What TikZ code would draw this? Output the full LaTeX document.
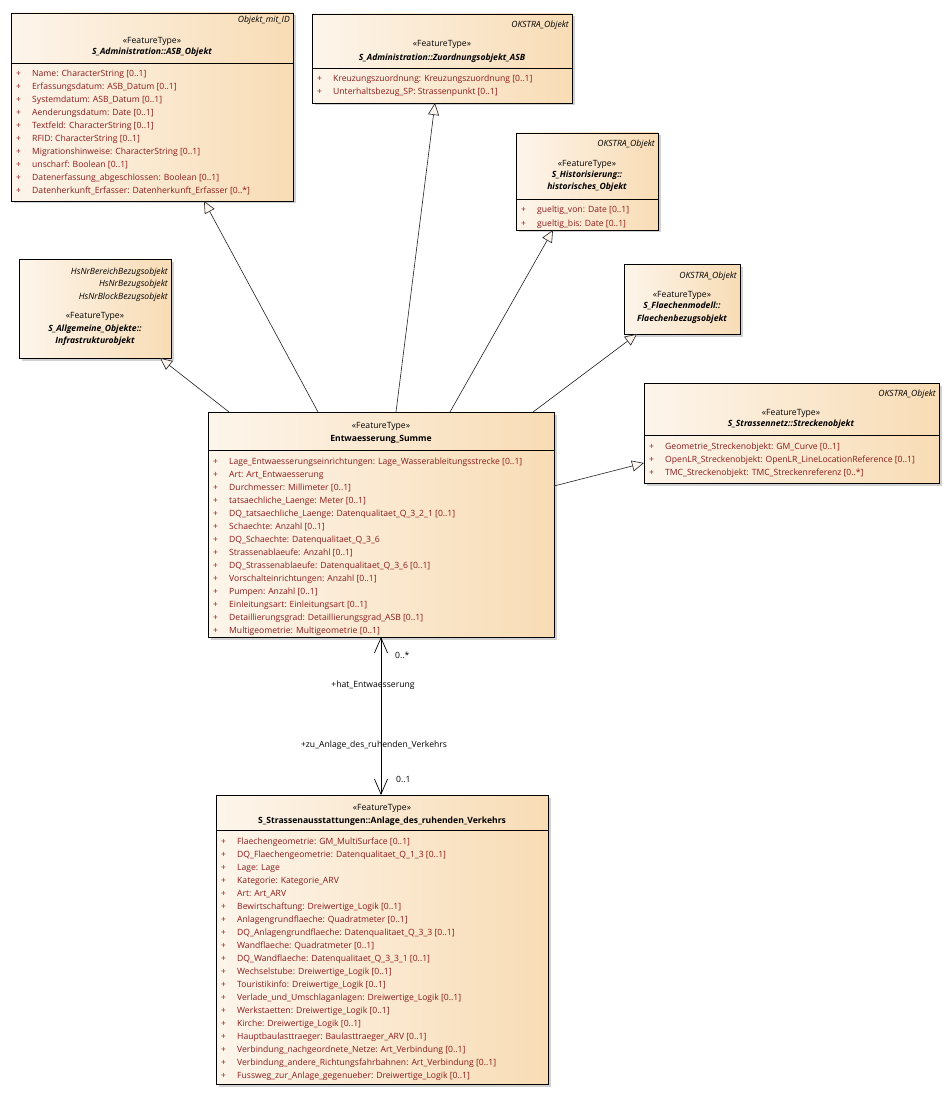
\documentclass[tikz,border=0pt]{standalone}
\usepackage{fontspec}
\setmainfont{Open Sans}
\usetikzlibrary{arrows.meta,shadows,calc}
\definecolor{boxL}{HTML}{FDF5EB}
\definecolor{boxR}{HTML}{F8DCB5}
\definecolor{attrc}{HTML}{8B1A1A}
\definecolor{linec}{HTML}{222222}
\newcommand\dfont{\fontsize{8.6}{10}\selectfont}
\tikzset{
  umlbox/.style={draw=black, line width=0.9pt, left color=boxL, right color=boxR,
    drop shadow={shadow xshift=2.5pt, shadow yshift=-2.5pt, fill=black!40, opacity=0.45},
    inner sep=0pt, outer sep=0pt, anchor=north west},
  txt/.style={font=\dfont, inner sep=0pt, text=black},
  attrtxt/.style={txt, text=attrc},
  stereo/.style={txt, font=\dfont\itshape},
  titleit/.style={txt, font=\dfont\bfseries\itshape},
  titlebf/.style={txt, font=\dfont\bfseries},
  divline/.style={draw=black, line width=0.8pt},
  gen/.style={draw=linec, line width=0.6pt, -{Triangle[length=12pt, width=11pt, fill=boxL]}},
  assoc/.style={draw=black, line width=0.7pt, {Straight Barb[length=15pt, width=13pt]}-{Straight Barb[length=15pt, width=13pt]}},
  lbl/.style={txt}
}
\newcommand\attrlist[4]{%
  \foreach \t [count=\i from 0] in {#4} {
    \node[attrtxt, anchor=base west] (#1p\i) at (#2+5, #3+13*\i) {+};
    \node[attrtxt, anchor=base west] (#1t\i) at (#2+21, #3+13*\i) {\t};
  }}
\begin{document}
\begin{tikzpicture}[x=1pt, y=-1pt]
\path[use as bounding box, fill=white] (0,0) rectangle (949,1115);

% ---------- ASB_Objekt ----------
\node[umlbox, minimum width=282pt, minimum height=188pt] (asb) at (11,13) {};
\node[stereo, anchor=base east] (asbst) at (290,23) {Objekt\_mit\_ID};
\node[txt, anchor=base] (asbft) at (152,44) {«FeatureType»};
\node[titleit, anchor=base] (asbtt) at (152,55) {S\_Administration::ASB\_Objekt};
\draw[divline] (asb.west |- 0,63) -- (asb.east |- 0,63);
\attrlist{asb}{11}{77}{Name: CharacterString [0..1],Erfassungsdatum: ASB\_Datum [0..1],Systemdatum: ASB\_Datum [0..1],Aenderungsdatum: Date [0..1],Textfeld: CharacterString [0..1],RFID: CharacterString [0..1],Migrationshinweise: CharacterString [0..1],unscharf: Boolean [0..1],Datenerfassung\_abgeschlossen: Boolean [0..1],Datenherkunft\_Erfasser: Datenherkunft\_Erfasser [0..*]}

% ---------- Zuordnungsobjekt_ASB ----------
\node[umlbox, minimum width=260pt, minimum height=89pt] (zuo) at (312,14) {};
\node[stereo, anchor=base east] (zuost) at (569,28) {OKSTRA\_Objekt};
\node[txt, anchor=base] (zuoft) at (442,47) {«FeatureType»};
\node[titleit, anchor=base] (zuott) at (442,61) {S\_Administration::Zuordnungsobjekt\_ASB};
\draw[divline] (zuo.west |- 0,68) -- (zuo.east |- 0,68);
\attrlist{zuo}{312}{82}{Kreuzungszuordnung: Kreuzungszuordnung [0..1],Unterhaltsbezug\_SP: Strassenpunkt [0..1]}

% ---------- historisches_Objekt ----------
\node[umlbox, minimum width=142pt, minimum height=97pt] (his) at (516,133) {};
\node[stereo, anchor=base east] (hisst) at (655,147) {OKSTRA\_Objekt};
\node[txt, anchor=base] (hisft) at (587,167) {«FeatureType»};
\node[titleit, anchor=base] (histt) at (587,178) {S\_Historisierung::};
\node[titleit, anchor=base] (histt2) at (587,190) {historisches\_Objekt};
\draw[divline] (his.west |- 0,199) -- (his.east |- 0,199);
\attrlist{his}{516}{213}{gueltig\_von: Date [0..1],gueltig\_bis: Date [0..1]}

% ---------- Infrastrukturobjekt ----------
\node[umlbox, minimum width=152pt, minimum height=99pt] (inf) at (19,259) {};
\node[stereo, anchor=base east] (infst1) at (168,274) {HsNrBereichBezugsobjekt};
\node[stereo, anchor=base east] (infst2) at (168,286) {HsNrBezugsobjekt};
\node[stereo, anchor=base east] (infst3) at (168,299) {HsNrBlockBezugsobjekt};
\node[txt, anchor=base] (infft) at (95,318) {«FeatureType»};
\node[titleit, anchor=base] (inftt) at (95,331) {S\_Allgemeine\_Objekte::};
\node[titleit, anchor=base] (inftt2) at (95,343) {Infrastrukturobjekt};

% ---------- Flaechenbezugsobjekt ----------
\node[umlbox, minimum width=116pt, minimum height=70pt] (fla) at (624,264) {};
\node[stereo, anchor=base east] (flast) at (737,278) {OKSTRA\_Objekt};
\node[txt, anchor=base] (flaft) at (682,297) {«FeatureType»};
\node[titleit, anchor=base] (flatt) at (682,308) {S\_Flaechenmodell::};
\node[titleit, anchor=base] (flatt2) at (682,321) {Flaechenbezugsobjekt};

% ---------- Streckenobjekt ----------
\node[umlbox, minimum width=295pt, minimum height=100pt] (str) at (644,383) {};
\node[stereo, anchor=base east] (strst) at (936,396) {OKSTRA\_Objekt};
\node[txt, anchor=base] (strft) at (791,415) {«FeatureType»};
\node[titleit, anchor=base] (strtt) at (791,426) {S\_Strassennetz::Streckenobjekt};
\draw[divline] (str.west |- 0,435) -- (str.east |- 0,435);
\attrlist{str}{644}{449}{Geometrie\_Streckenobjekt: GM\_Curve [0..1],OpenLR\_Streckenobjekt: OpenLR\_LineLocationReference [0..1],TMC\_Streckenobjekt: TMC\_Streckenreferenz [0..*]}

% ---------- Entwaesserung_Summe ----------
\node[umlbox, minimum width=346pt, minimum height=225pt] (mai) at (208,412) {};
\node[txt, anchor=base] (maift) at (381,428) {«FeatureType»};
\node[titlebf, anchor=base] (maitt) at (381,441) {Entwaesserung\_Summe};
\draw[divline] (mai.west |- 0,450) -- (mai.east |- 0,450);
\attrlist{mai}{208}{464}{Lage\_Entwaesserungseinrichtungen: Lage\_Wasserableitungsstrecke [0..1],Art: Art\_Entwaesserung,Durchmesser: Millimeter [0..1],tatsaechliche\_Laenge: Meter [0..1],DQ\_tatsaechliche\_Laenge: Datenqualitaet\_Q\_3\_2\_1 [0..1],Schaechte: Anzahl [0..1],DQ\_Schaechte: Datenqualitaet\_Q\_3\_6,Strassenablaeufe: Anzahl [0..1],DQ\_Strassenablaeufe: Datenqualitaet\_Q\_3\_6 [0..1],Vorschalteinrichtungen: Anzahl [0..1],Pumpen: Anzahl [0..1],Einleitungsart: Einleitungsart [0..1],Detaillierungsgrad: Detaillierungsgrad\_ASB [0..1],Multigeometrie: Multigeometrie [0..1]}

% ---------- Anlage_des_ruhenden_Verkehrs ----------
\node[umlbox, minimum width=332pt, minimum height=289pt] (anl) at (216,795) {};
\node[txt, anchor=base] (anlft) at (382,810) {«FeatureType»};
\node[titlebf, anchor=base] (anltt) at (382,823) {S\_Strassenausstattungen::Anlage\_des\_ruhenden\_Verkehrs};
\draw[divline] (anl.west |- 0,830) -- (anl.east |- 0,830);
\attrlist{anl}{216}{844}{Flaechengeometrie: GM\_MultiSurface [0..1],DQ\_Flaechengeometrie: Datenqualitaet\_Q\_1\_3 [0..1],Lage: Lage,Kategorie: Kategorie\_ARV,Art: Art\_ARV,Bewirtschaftung: Dreiwertige\_Logik [0..1],Anlagengrundflaeche: Quadratmeter [0..1],DQ\_Anlagengrundflaeche: Datenqualitaet\_Q\_3\_3 [0..1],Wandflaeche: Quadratmeter [0..1],DQ\_Wandflaeche: Datenqualitaet\_Q\_3\_3\_1 [0..1],Wechselstube: Dreiwertige\_Logik [0..1],Touristikinfo: Dreiwertige\_Logik [0..1],Verlade\_und\_Umschlaganlagen: Dreiwertige\_Logik [0..1],Werkstaetten: Dreiwertige\_Logik [0..1],Kirche: Dreiwertige\_Logik [0..1],Hauptbaulasttraeger: Baulasttraeger\_ARV [0..1],Verbindung\_nachgeordnete\_Netze: Art\_Verbindung [0..1],Verbindung\_andere\_Richtungsfahrbahnen: Art\_Verbindung [0..1],Fussweg\_zur\_Anlage\_gegenueber: Dreiwertige\_Logik [0..1]}

% ---------- generalizations ----------
\draw[gen] ($(mai.north west)+(21,0)$) -- ($(inf.south west)+(141,0)$);
\draw[gen] ($(mai.north west)+(110,0)$) -- ($(asb.south west)+(193,0)$);
\draw[gen] ($(mai.north west)+(188,0)$) -- ($(zuo.south west)+(123,0)$);
\draw[gen] ($(mai.north west)+(242,0)$) -- ($(his.south west)+(37,0)$);
\draw[gen] ($(mai.north west)+(325,0)$) -- ($(fla.south west)+(13,0)$);
\draw[gen] ($(mai.north east)+(0,74)$) -- ($(str.north west)+(0,80)$);

% ---------- association ----------
\draw[assoc] ($(mai.south west)+(173,0)$) -- ($(anl.north west)+(165,0)$);
\node[lbl, anchor=base west] (m1) at (395,658) {0..*};
\node[lbl, anchor=base] (r1) at (373,687) {+hat\_Entwaesserung};
\node[lbl, anchor=base] (r2) at (374,747) {+zu\_Anlage\_des\_ruhenden\_Verkehrs};
\node[lbl, anchor=base west] (m2) at (396,782) {0..1};
\end{tikzpicture}
\end{document}
